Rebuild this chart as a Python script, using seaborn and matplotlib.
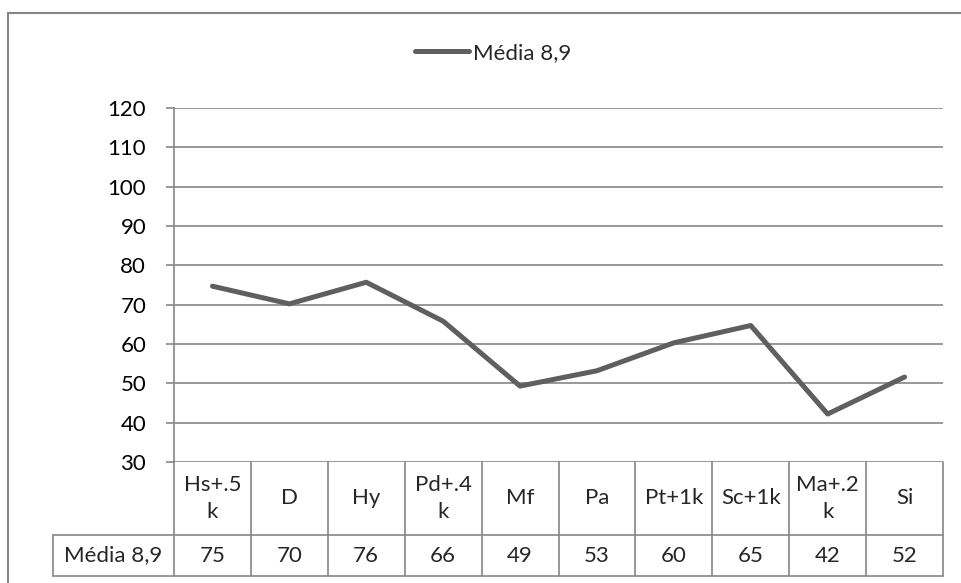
import numpy as np
import pandas as pd
import matplotlib
matplotlib.use("Agg")
import matplotlib.pyplot as plt
import matplotlib.transforms as mtransforms
import seaborn as sns

# dados do gráfico
categorias = ["Hs+.5\nk", "D", "Hy", "Pd+.4\nk", "Mf", "Pa", "Pt+1k", "Sc+1k", "Ma+.2\nk", "Si"]
valores = [74.7, 70.2, 75.7, 65.8, 49.3, 53.2, 60.3, 64.7, 42.2, 51.6]
serie = "Média 8,9"
yticks = list(range(30, 121, 10))

df = pd.DataFrame({"pos": np.arange(len(categorias)), "valor": valores})

sns.set_style("white")
plt.rcParams["font.family"] = ["Lato", "DejaVu Sans"]

cinza = "#868686"
cor_linha = "#5f5f5f"
W, H = 962, 583
fs = 16

fig = plt.figure(figsize=(W / 100, H / 100), dpi=100)
# posicao do eixo em pixels
x0, x1, y_top, y_bot = 174, 943, 108, 462
ax = fig.add_axes([x0 / W, 1 - y_bot / H, (x1 - x0) / W, (y_bot - y_top) / H])

sns.lineplot(data=df, x="pos", y="valor", ax=ax, color=cor_linha, linewidth=3.6,
             label=serie, sort=False)

ax.set_xlim(-0.5, len(categorias) - 0.5)
ax.set_ylim(30, 120)
ax.set_yticks(yticks)
ax.set_xticks([])
ax.set_xlabel("")
ax.set_ylabel("")
ax.yaxis.grid(True, color=cinza, linewidth=1.2)
ax.set_axisbelow(True)
for s in ["top", "right", "bottom"]:
    ax.spines[s].set_visible(False)
ax.spines["left"].set_color(cinza)
ax.spines["left"].set_linewidth(1.2)
ax.tick_params(axis="y", length=6, width=1.2, color=cinza, labelsize=fs, pad=14,
               left=True, labelcolor="black")

# legenda no topo
ax.legend(loc="center", bbox_to_anchor=(493 / W, 1 - 53 / H), bbox_transform=fig.transFigure,
          frameon=False, fontsize=fs, handlelength=2.45, handletextpad=0.15)

# ---------------------------------
# tabela de dados abaixo do eixo
# ---------------------------------
altura = y_bot - y_top
h_cab = 73 / altura
h_val = 41 / altura
trans = mtransforms.blended_transform_factory(ax.transData, ax.transAxes)
lw = 1.2

def linha(xs, ys, t):
    ax.plot(xs, ys, transform=t, color=cinza, linewidth=lw, clip_on=False)

n = len(categorias)
for i in range(n + 1):
    linha([i - 0.5, i - 0.5], [0, -(h_cab + h_val)], trans)
x_rot = (53 - x0) / (x1 - x0)
linha([x_rot, 1], [-h_cab, -h_cab], ax.transAxes)
linha([x_rot, 1], [-(h_cab + h_val), -(h_cab + h_val)], ax.transAxes)
linha([x_rot, x_rot], [-h_cab, -(h_cab + h_val)], ax.transAxes)

for i, (cat, v) in enumerate(zip(categorias, valores)):
    ax.text(i, -h_cab / 2, cat, transform=trans, ha="center", va="center",
            fontsize=fs, linespacing=1.4)
    ax.text(i, -h_cab - h_val / 2, f"{v:.0f}", transform=trans, ha="center", va="center",
            fontsize=fs)
ax.text(x_rot / 2, -h_cab - h_val / 2, serie, transform=ax.transAxes,
        ha="center", va="center", fontsize=fs)

# borda da area do grafico
fig.add_artist(plt.Line2D([8 / W, 8 / W], [0, 1 - 13 / H], color=cinza, linewidth=1.5))
fig.add_artist(plt.Line2D([8 / W, 1], [1 - 13 / H, 1 - 13 / H], color=cinza, linewidth=1.5))

fig.savefig("out.png", dpi=100)
